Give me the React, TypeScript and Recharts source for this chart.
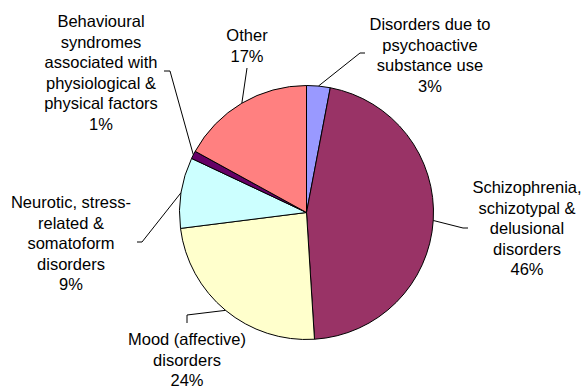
import React from 'react';
import { PieChart, Pie, Cell } from 'recharts';

// ICD-10 diagnosis groups, share of cases (%)
const categories = [
    'Disorders due to\npsychoactive\nsubstance use',
    'Schizophrenia,\nschizotypal &\ndelusional\ndisorders',
    'Mood (affective)\ndisorders',
    'Neurotic, stress-\nrelated &\nsomatoform\ndisorders',
    'Behavioural\nsyndromes\nassociated with\nphysiological &\nphysical factors',
    'Other',
];
const shares = [3, 46, 24, 9, 1, 17];
const colors = ['#9999FF', '#993366', '#FFFFCC', '#CCFFFF', '#660066', '#FF8080'];

const data = categories.map((name, i) => ({ name, value: shares[i] }));

// label placement: text centre x, first baseline y, and leader elbow/end
const labelLayout = [
    { x: 430, y: 30, elbow: [360, 53], end: [365, 53] },
    { x: 527, y: 193, elbow: [463, 228], end: [468, 228] },
    { x: 187, y: 345, elbow: [187, 315], end: [187, 323] },
    { x: 71, y: 208, elbow: [142, 242], end: [137, 242] },
    { x: 101, y: 27, elbow: [170, 71], end: [164, 71] },
    { x: 247, y: 41, elbow: [247, 68], end: [247, 68] },
];

const RADIAN = Math.PI / 180;
const LINE_HEIGHT = 20.5;

const renderLabel = (props: any) => {
    const { cx, cy, midAngle, outerRadius, index, name, percent } = props;
    const layout = labelLayout[index];
    const sx = cx + outerRadius * Math.cos(-midAngle * RADIAN);
    const sy = cy + outerRadius * Math.sin(-midAngle * RADIAN);
    const lines = [...String(name).split('\n'), `${Math.round(percent * 100)}%`];
    return (
        <g>
            <polyline
                points={`${sx},${sy} ${layout.elbow[0]},${layout.elbow[1]} ${layout.end[0]},${layout.end[1]}`}
                fill="none"
                stroke="#000"
                strokeWidth={1}
            />
            <text
                x={layout.x}
                y={layout.y}
                textAnchor="middle"
                fill="#000"
                fontSize={16.5}
                fontFamily="'Liberation Sans', Arial, sans-serif"
            >
                {lines.map((line, i) => (
                    <tspan key={i} x={layout.x} y={layout.y + i * LINE_HEIGHT}>
                        {line}
                    </tspan>
                ))}
            </text>
        </g>
    );
};

export default function App() {
    return (
        <div style={{ position: 'absolute', left: 0, top: 0, width: 582, height: 388, background: '#fff' }}>
            <PieChart width={582} height={388} margin={{ top: 0, right: 0, bottom: 0, left: 0 }}>
                <Pie
                    data={data}
                    dataKey="value"
                    nameKey="name"
                    cx={306.5}
                    cy={212.5}
                    outerRadius={127}
                    startAngle={90}
                    endAngle={-270}
                    stroke="#000"
                    strokeWidth={1}
                    label={renderLabel}
                    labelLine={false}
                    isAnimationActive={false}
                >
                    {data.map((d, i) => (
                        <Cell key={d.name} fill={colors[i]} />
                    ))}
                </Pie>
            </PieChart>
        </div>
    );
}
